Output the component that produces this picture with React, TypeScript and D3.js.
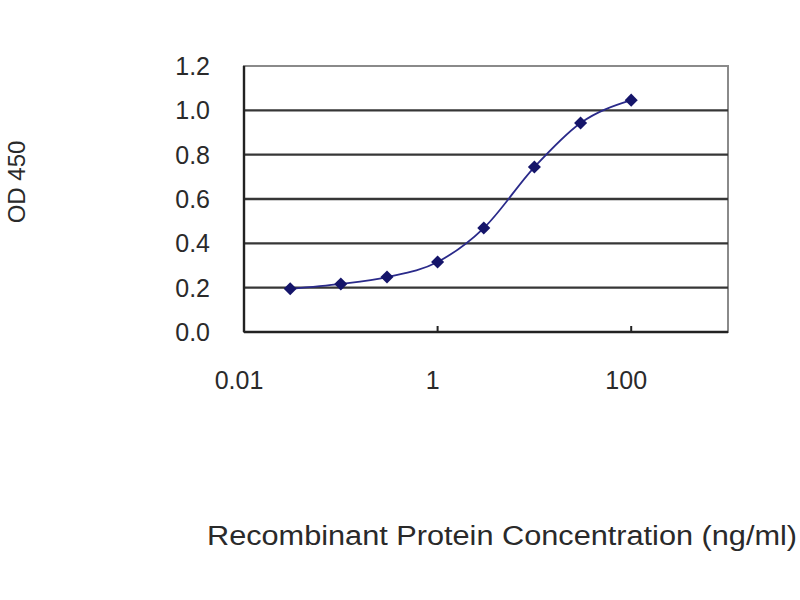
import React from "react";
import * as d3 from "d3";

const concentrations = [0.03, 0.1, 0.3, 1, 3, 10, 30, 100];
const odValues = [0.195, 0.217, 0.248, 0.316, 0.469, 0.744, 0.943, 1.046];
const yTicks = [0, 0.2, 0.4, 0.6, 0.8, 1.0, 1.2];
const xTicks = [0.01, 1, 100];
const xTickLabels = ["0.01", "1", "100"];

const W = 800;
const H = 600;
const left = 244;
const right = 728;
const top = 66;
const bottom = 332;
const font = "'Liberation Sans', Arial, sans-serif";

export default function App() {
  const x = d3.scaleLog().domain([0.01, 1000]).range([left, right]);
  const y = d3.scaleLinear().domain([0, 1.2]).range([bottom, top]);
  const pts = concentrations.map((c, i) => [x(c), y(odValues[i])] as [number, number]);
  const line = d3.line().curve(d3.curveMonotoneX)(pts) || "";
  const marker = d3.symbol().type(d3.symbolSquare).size(85)() || "";

  return (
    <svg width={W} height={H} style={{ position: "absolute", left: 0, top: 0, background: "#fff" }}>
      <rect x={0} y={0} width={W} height={H} fill="#fff" />
      <rect x={left} y={top} width={right - left} height={bottom - top} fill="none" stroke="#8a8a8a" strokeWidth={2} />
      {yTicks.filter((t) => t > 0 && t < 1.2).map((t) => (
        <line key={t} x1={left} x2={right} y1={y(t)} y2={y(t)} stroke="#363636" strokeWidth={2.4} />
      ))}
      <line x1={left} x2={left} y1={top} y2={bottom} stroke="#222" strokeWidth={2.4} />
      <line x1={left} x2={right} y1={bottom} y2={bottom} stroke="#222" strokeWidth={2.4} />
      {xTicks.map((t) => (
        <line key={t} x1={x(t)} x2={x(t)} y1={bottom} y2={bottom - 6} stroke="#222" strokeWidth={2} />
      ))}
      {yTicks.map((t) => (
        <text key={t} x={210} y={y(t)} dy="0.36em" textAnchor="end" fontFamily={font} fontSize={25} fill="#2a2a2a">
          {t.toFixed(1)}
        </text>
      ))}
      {xTicks.map((t, i) => (
        <text key={t} x={x(t) - 5} y={380} dy="0.36em" textAnchor="middle" fontFamily={font} fontSize={25} fill="#2a2a2a">
          {xTickLabels[i]}
        </text>
      ))}
      <path d={line} fill="none" stroke="#2a2a8a" strokeWidth={1.8} />
      {pts.map((p, i) => (
        <path key={i} d={marker} transform={`translate(${p[0]},${p[1]}) rotate(45)`} fill="#15156a" />
      ))}
      <text
        transform={`translate(16,182) rotate(-90)`}
        textAnchor="middle"
        dy="0.36em"
        fontFamily={font}
        fontSize={24}
        fill="#2a2a2a"
      >
        OD 450
      </text>
      <text x={207} y={535} dy="0.36em" fontFamily={font} fontSize={27} fill="#2a2a2a" textLength={590} lengthAdjust="spacingAndGlyphs">
        Recombinant Protein Concentration (ng/ml)
      </text>
    </svg>
  );
}
